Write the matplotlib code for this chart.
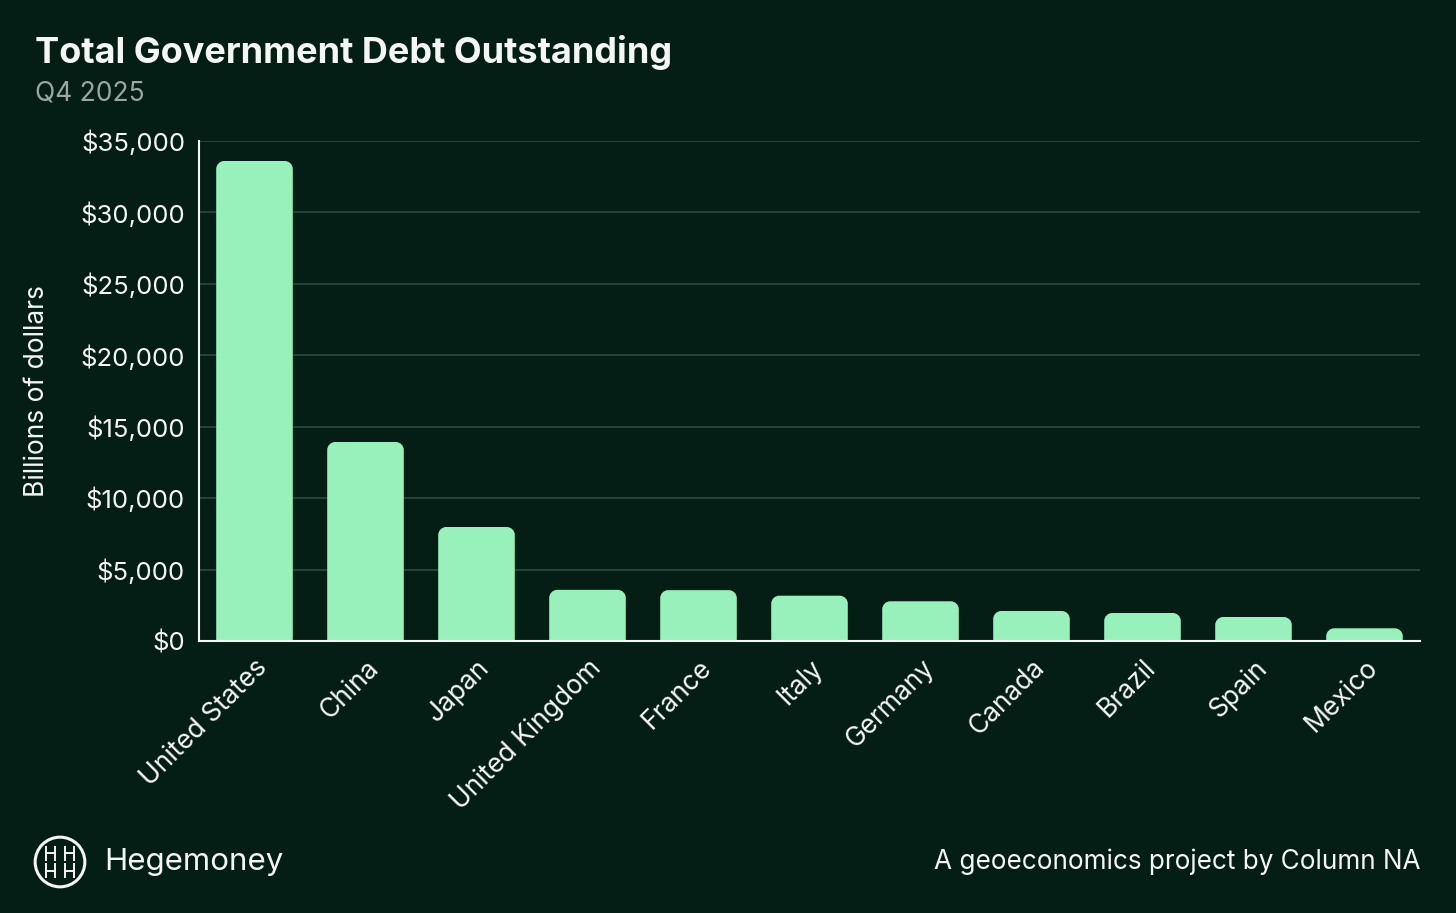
import matplotlib
matplotlib.use('Agg')
import matplotlib.pyplot as plt
from matplotlib.patches import PathPatch, Circle
from matplotlib.path import Path
from matplotlib.ticker import FuncFormatter

countries = ['United States', 'China', 'Japan', 'United Kingdom', 'France',
             'Italy', 'Germany', 'Canada', 'Brazil', 'Spain', 'Mexico']
debt = [33600, 13930, 7980, 3580, 3560, 3170, 2780, 2100, 1960, 1680, 890]
yticks = [0, 5000, 10000, 15000, 20000, 25000, 30000, 35000]

BG = '#041e16'
BAR = '#98f0bb'
GRID = '#2b4b3f'
WHITE = '#f4f6f4'

plt.rcParams['font.family'] = ['Inter', 'DejaVu Sans']


def top_rounded_bar(x0, x1, top, rx, ry):
    # bar path with the two upper corners rounded (cubic arcs)
    k = 0.5523
    verts = [(x0, 0), (x0, top - ry),
             (x0, top - ry + k * ry), (x0 + rx - k * rx, top), (x0 + rx, top),
             (x1 - rx, top),
             (x1 - rx + k * rx, top), (x1, top - ry + k * ry), (x1, top - ry),
             (x1, 0), (x0, 0)]
    codes = [Path.MOVETO, Path.LINETO,
             Path.CURVE4, Path.CURVE4, Path.CURVE4,
             Path.LINETO,
             Path.CURVE4, Path.CURVE4, Path.CURVE4,
             Path.LINETO, Path.CLOSEPOLY]
    return Path(verts, codes)


fig = plt.figure(figsize=(14.56, 9.13), dpi=100, facecolor=BG)
ax = fig.add_axes([199 / 1456, 1 - 641 / 913, (1420 - 199) / 1456, 500 / 913])
ax.set_facecolor(BG)

ax.set_xlim(-0.5, len(countries) - 0.5)
ax.set_ylim(0, 35000)

x_per_px = len(countries) / (1420 - 199)
y_per_px = 35000 / 500
radius_px = 8
width = 0.69
for i, v in enumerate(debt):
    p = top_rounded_bar(i - width / 2, i + width / 2, v,
                        radius_px * x_per_px, radius_px * y_per_px)
    ax.add_patch(PathPatch(p, facecolor=BAR, edgecolor='none', zorder=3))

ax.set_xticks(range(len(countries)))
ax.set_xticklabels(countries, rotation=45, ha='right', rotation_mode='anchor',
                   fontsize=19, color=WHITE)
ax.set_yticks(yticks)
ax.yaxis.set_major_formatter(FuncFormatter(lambda v, p: '${:,.0f}'.format(v)))
ax.tick_params(axis='y', labelsize=18.5, labelcolor=WHITE, length=0, pad=10)
ax.tick_params(axis='x', length=0, pad=10)

ax.grid(axis='y', color=GRID, linewidth=1.2, zorder=0)
for s in ['top', 'right']:
    ax.spines[s].set_visible(False)
for s in ['left', 'bottom']:
    ax.spines[s].set_color(WHITE)
    ax.spines[s].set_linewidth(1.5)
    ax.spines[s].set_zorder(4)

ax.set_ylabel('Billions of dollars', fontsize=19, color=WHITE)
ax.yaxis.set_label_coords(-0.122, 0.5)

fig.text(35 / 1456, 1 - 52 / 913, 'Total Government Debt Outstanding',
         fontsize=26, fontweight='bold', color=WHITE, va='center', ha='left')
fig.text(35 / 1456, 1 - 94 / 913, 'Q4 2025', fontsize=19, color='#9aa8a1',
         va='center', ha='left')
fig.text(1420 / 1456, 1 - 862 / 913, 'A geoeconomics project by Column NA',
         fontsize=18.8, color=WHITE, va='center', ha='right')
fig.text(104 / 1456, 1 - 862 / 913, 'Hegemoney', fontsize=22.5, color=WHITE,
         va='center', ha='left')

# logo: circle with four small H marks
lax = fig.add_axes([33 / 1456, 1 - 889 / 913, 54 / 1456, 54 / 913])
lax.set_xlim(-1, 1)
lax.set_ylim(-1, 1)
lax.set_aspect('equal')
lax.axis('off')
lax.add_patch(Circle((0, 0), 0.92, fill=False, edgecolor=WHITE, linewidth=2.2))
for cx in (-0.36, 0.36):
    for cy in (-0.32, 0.32):
        for xv in (cx - 0.17, cx + 0.17):
            lax.plot([xv, xv], [cy - 0.24, cy + 0.24], color=WHITE, lw=1.4)
        lax.plot([cx - 0.17, cx + 0.17], [cy, cy], color=WHITE, lw=1.4)

fig.savefig('out.png', dpi=100, facecolor=BG)
